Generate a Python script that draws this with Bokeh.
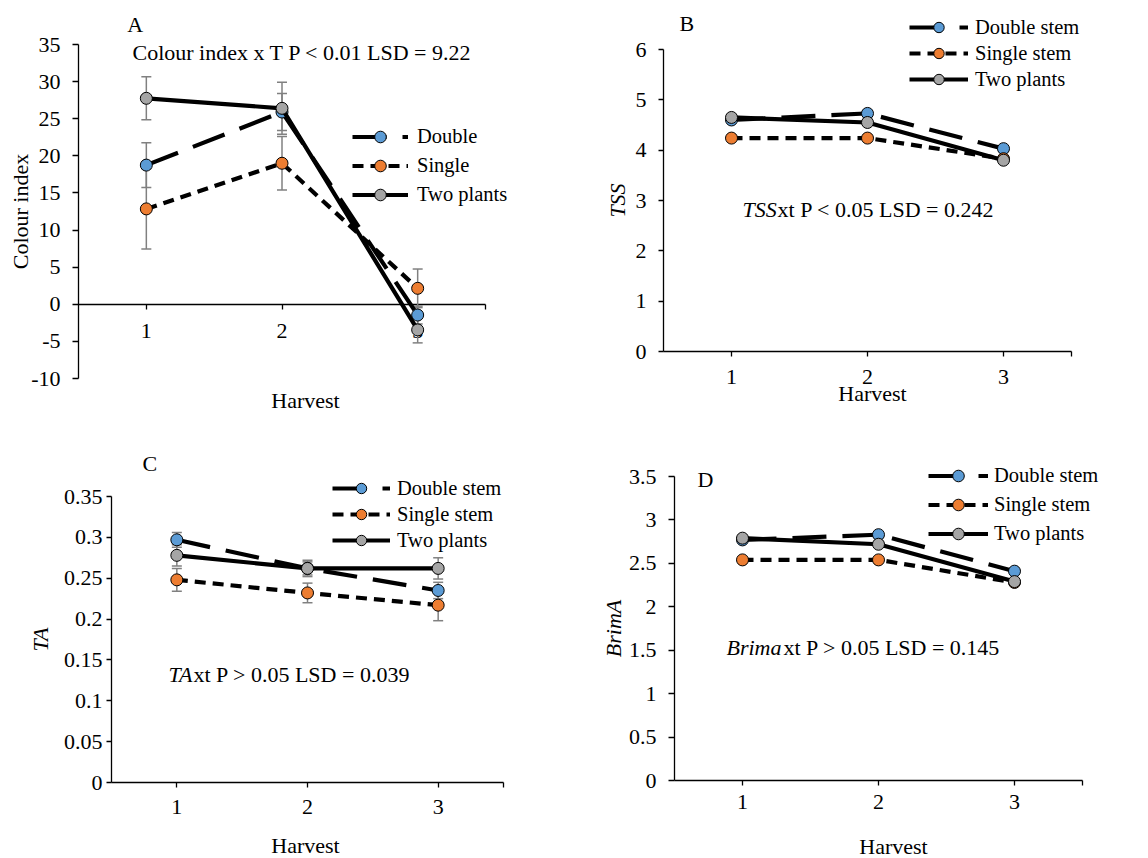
import math
from bokeh.plotting import figure
from bokeh.models import (ColumnDataSource, FixedTicker, CustomJSTickFormatter, Legend,
                          LegendItem, Label, Whisker, TeeHead, Range1d)
from bokeh.layouts import column, row
from bokeh.embed import file_html
from bokeh.resources import INLINE

# ---------------- data ----------------
harvest = [1, 2, 3]
names_short = ["Double", "Single", "Two plants"]
names_stem = ["Double stem", "Single stem", "Two plants"]

ci_double = [18.75, 25.9, -1.45]
ci_double_err = [3.0, 2.5, 1.2]
ci_single = [12.85, 19.0, 2.15]
ci_single_err = [5.4, 3.6, 2.6]
ci_two = [27.75, 26.4, -3.45]
ci_two_err = [2.9, 3.5, 1.75]

tss_double = [4.60, 4.73, 4.03]
tss_single = [4.24, 4.24, 3.83]
tss_two = [4.65, 4.55, 3.80]

ta_double = [0.297, 0.262, 0.235]
ta_double_err = [0.009, 0.008, 0.010]
ta_single = [0.248, 0.232, 0.217]
ta_single_err = [0.014, 0.012, 0.019]
ta_two = [0.278, 0.262, 0.262]
ta_two_err = [0.013, 0.010, 0.013]

brima_double = [2.77, 2.83, 2.41]
brima_single = [2.54, 2.54, 2.28]
brima_two = [2.79, 2.72, 2.29]

yticks_A = [-10, -5, 0, 5, 10, 15, 20, 25, 30, 35]
yticks_B = [0, 1, 2, 3, 4, 5, 6]
yticks_C = [0, 0.05, 0.1, 0.15, 0.2, 0.25, 0.3, 0.35]
yticks_D = [0, 0.5, 1, 1.5, 2, 2.5, 3, 3.5]
xticks = [1, 2, 3, 3.5]
X_LO, X_HI = 0.5, 3.5
ZERO = 0

# ---------------- style ----------------
FONT = "Liberation Serif"
FS = "22px"
LEG_FS = "20.5px"
COLORS = ["#5B9BD5", "#ED7D31", "#A5A5A5"]
DASHES = ["34 16", "11 7", "solid"]
LW = 4.2
ERR_COLOR = "#808080"

yfmt = "return parseFloat(tick.toFixed(2)).toString();"
xfmt = "return Number.isInteger(tick) ? tick.toString() : '';"


def style_axis(ax, tick_out, standoff):
    ax.axis_line_color = "black"
    ax.axis_line_width = 1.3
    ax.major_tick_line_color = "black"
    ax.major_tick_line_width = 1.3
    ax.major_tick_out = tick_out
    ax.major_tick_in = 0
    ax.minor_tick_line_color = None
    ax.major_label_text_font = FONT
    ax.major_label_text_font_size = FS
    ax.major_label_text_color = "black"
    ax.major_label_standoff = standoff


def make_panel(cfg):
    W, H = cfg["w"], cfg["h"]
    L, T, B, R = cfg["axes_px"]            # axis box (figure pixels)
    ymin, ymax = cfg["yr"]
    sx = (R - L) / (X_HI - X_LO)
    sy = (B - T) / (ymax - ymin)

    def to_x(px):
        return X_LO + (px - L) / sx

    def to_y(py):
        return ymin + (B - py) / sy

    # drawing frame covers the whole figure, so nothing gets clipped
    p = figure(width=W, height=H, output_backend="svg", toolbar_location=None,
               x_range=Range1d(to_x(0), to_x(W)), y_range=Range1d(to_y(H), to_y(0)),
               min_border_left=0, min_border_top=0, min_border_right=0,
               min_border_bottom=0, frame_align=False)
    p.outline_line_color = None
    p.xgrid.visible = False
    p.ygrid.visible = False
    p.background_fill_color = "white"
    p.border_fill_color = "white"

    # y axis, pinned at the first category edge
    ya = p.yaxis[0]
    style_axis(ya, cfg["ytick_out"], cfg["ylab_standoff"])
    ya.fixed_location = X_LO
    ya.ticker = FixedTicker(ticks=cfg["yticks"])
    ya.formatter = CustomJSTickFormatter(code=yfmt)
    ya.bounds = (ymin, ymax)

    # x axis, pinned at the value-axis crossing
    xa = p.xaxis[0]
    style_axis(xa, 5, cfg["xlab_standoff"])
    xa.fixed_location = cfg["x_cross"]
    xa.bounds = (X_LO, X_HI)
    xa.ticker = FixedTicker(ticks=xticks)
    xa.formatter = CustomJSTickFormatter(code=xfmt)
    xa.level = "underlay"

    # axis titles
    ylx, yly = cfg["ylabel_px"]
    p.add_layout(Label(x=to_x(ylx), y=to_y(yly), text=cfg["ylabel"], angle=math.pi / 2,
                       text_font=FONT, text_font_size=FS, text_color="black",
                       text_font_style="italic" if cfg["yital"] else "normal",
                       text_align="center", text_baseline="middle"))
    xlx, xly = cfg["xlabel_px"]
    p.add_layout(Label(x=to_x(xlx), y=to_y(xly), text="Harvest",
                       text_font=FONT, text_font_size=FS, text_color="black",
                       text_align="center", text_baseline="middle"))

    items = []
    for i, (vals, errs) in enumerate(zip(cfg["vals"], cfg["errs"])):
        data = dict(x=harvest, y=vals)
        if errs is not None:
            data["upper"] = [v + e for v, e in zip(vals, errs)]
            data["lower"] = [v - e for v, e in zip(vals, errs)]
        src = ColumnDataSource(data)
        if errs is not None:
            wh = Whisker(source=src, base="x", upper="upper", lower="lower",
                         line_color=ERR_COLOR, line_width=1.5, level="underlay",
                         upper_head=TeeHead(size=10, line_color=ERR_COLOR, line_width=1.5),
                         lower_head=TeeHead(size=10, line_color=ERR_COLOR, line_width=1.5))
            p.add_layout(wh)
        lr = p.line("x", "y", source=src, line_color="black", line_width=LW,
                    line_dash=DASHES[i], line_join="round")
        sr = p.scatter("x", "y", source=src, size=12, fill_color=COLORS[i],
                       line_color="black", line_width=1)
        items.append(LegendItem(label=cfg["names"][i], renderers=[lr, sr]))

    lgx, lgb = cfg["leg_px"]               # legend left edge and bottom edge (figure pixels)
    leg = Legend(items=items, location=(lgx, H - lgb), orientation="vertical",
                 background_fill_alpha=0, border_line_color=None, padding=0, margin=0,
                 spacing=0, glyph_width=cfg["glyph_w"], glyph_height=cfg["glyph_h"],
                 label_height=20, label_standoff=cfg["leg_standoff"],
                 label_text_font=FONT, label_text_font_size=LEG_FS, label_text_color="black")
    p.add_layout(leg)

    lx, ly = cfg["letter_xy"]
    p.add_layout(Label(x=lx, y=ly, text=cfg["letter"], text_font=FONT, text_font_size=FS,
                       text_color="black", text_baseline="middle", text_align="left"))

    ax_, ay_ = cfg["ann_xy"]
    if cfg["ann_ital"]:
        p.add_layout(Label(x=ax_, y=ay_, text=cfg["ann_ital"], text_font=FONT, text_font_size=FS,
                           text_font_style="italic", text_color="black",
                           text_baseline="middle", text_align="left"))
    p.add_layout(Label(x=ax_, y=ay_, x_offset=cfg["ann_off"], text=cfg["ann_rest"], text_font=FONT,
                       text_font_size=FS, text_color="black",
                       text_baseline="middle", text_align="left"))
    return p


pA = make_panel(dict(
    w=580, h=425, axes_px=(78, 44, 378, 485), yr=(-10, 35), yticks=yticks_A, x_cross=ZERO,
    ylabel="Colour index", yital=False, ylabel_px=(19.5, 211), xlabel_px=(305, 400),
    ytick_out=6, ylab_standoff=12, xlab_standoff=15,
    vals=[ci_double, ci_single, ci_two], errs=[ci_double_err, ci_single_err, ci_two_err],
    names=names_short, leg_px=(352, 208.5), glyph_w=56, glyph_h=29, leg_standoff=9,
    letter="A", letter_xy=(0.859, 37.7),
    ann_xy=(0.898, 33.9), ann_ital=None, ann_rest="Colour index x T P < 0.01 LSD = 9.22", ann_off=0))

pB = make_panel(dict(
    w=568, h=425, axes_px=(83, 49, 351, 491), yr=(0, 6), yticks=yticks_B, x_cross=0,
    ylabel="TSS", yital=True, ylabel_px=(37, 200), xlabel_px=(292, 393),
    ytick_out=5, ylab_standoff=12, xlab_standoff=13,
    vals=[tss_double, tss_single, tss_two], errs=[None, None, None],
    names=names_stem, leg_px=(329, 92), glyph_w=59, glyph_h=26, leg_standoff=7,
    letter="B", letter_xy=(0.618, 6.52),
    ann_xy=(1.081, 2.82), ann_ital="TSS", ann_rest="xt P < 0.05 LSD = 0.242", ann_off=35))

pC = make_panel(dict(
    w=580, h=433, axes_px=(111, 71, 357, 503), yr=(0, 0.35), yticks=yticks_C, x_cross=0,
    ylabel="TA", yital=True, ylabel_px=(40, 214), xlabel_px=(305, 420),
    ytick_out=5, ylab_standoff=4, xlab_standoff=12,
    vals=[ta_double, ta_single, ta_two], errs=[ta_double_err, ta_single_err, ta_two_err],
    names=names_stem, leg_px=(332, 128), glyph_w=58, glyph_h=26, leg_standoff=7,
    letter="C", letter_xy=(0.737, 0.390),
    ann_xy=(0.936, 0.132), ann_ital="TA", ann_rest="xt P > 0.05 LSD = 0.039", ann_off=25))

pD = make_panel(dict(
    w=568, h=433, axes_px=(94, 51, 355, 502), yr=(0, 3.5), yticks=yticks_D, x_cross=0,
    ylabel="BrimA", yital=True, ylabel_px=(33, 203), xlabel_px=(313, 421),
    ytick_out=6, ylab_standoff=12, xlab_standoff=9,
    vals=[brima_double, brima_single, brima_two], errs=[None, None, None],
    names=names_stem, leg_px=(348, 122.5), glyph_w=60, glyph_h=29, leg_standoff=6,
    letter="D", letter_xy=(0.669, 3.47),
    ann_xy=(0.882, 1.53), ann_ital="Brima", ann_rest="xt P > 0.05 LSD = 0.145", ann_off=57))

layout = column(row(pA, pB), row(pC, pD))
open("out.html", "w").write(file_html(layout, INLINE))
